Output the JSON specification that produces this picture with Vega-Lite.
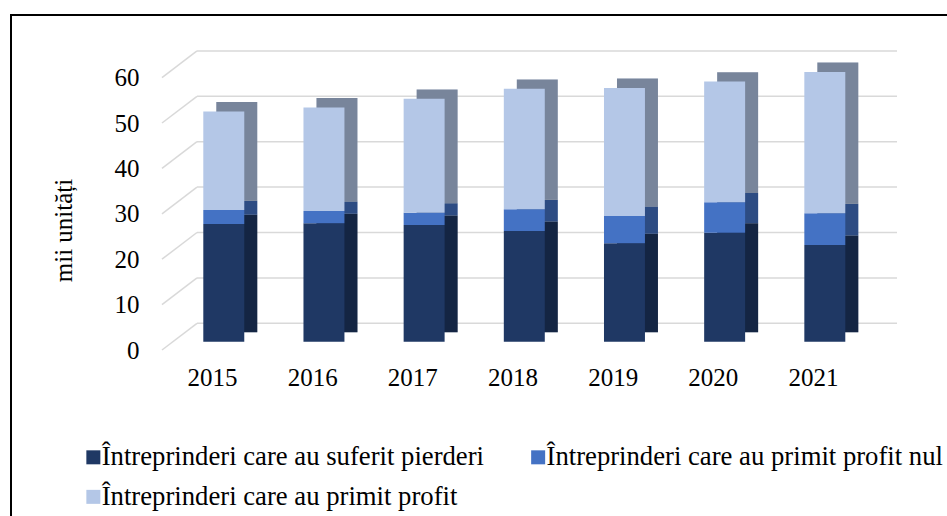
{
  "$schema": "https://vega.github.io/schema/vega-lite/v6.json",
  "width": 941,
  "height": 506,
  "autosize": {"type": "none"},
  "padding": {"left": 11, "top": 15, "right": -5, "bottom": -5},
  "background": "white",
  "config": {
    "view": {"stroke": "black", "strokeWidth": 2},
    "font": "Liberation Serif, Times New Roman, serif",
    "axis": {"grid": false, "domain": false, "ticks": false, "labelColor": "black", "labelFont": "Liberation Serif, Times New Roman, serif", "labelFontSize": 25, "titleColor": "black", "titleFont": "Liberation Serif, Times New Roman, serif", "titleFontSize": 25, "titleFontWeight": "normal"},
    "axisX": {"orient": "bottom", "offset": -166, "labelAngle": 0, "labelPadding": 10, "labelOffset": -11.3},
    "axisY": {"orient": "left", "offset": -129, "tickCount": 6, "labelPadding": 1, "labelOffset": 8.3, "titleX": -77, "titleY": 215, "titleAngle": -90, "titleAlign": "center", "titleBaseline": "middle"},
    "legend": {
      "orient": "none", "legendX": 69, "legendY": 428.5, "direction": "horizontal", "columns": 2,
      "padding": 0, "columnPadding": 39.8, "rowPadding": 12,
      "symbolType": "square", "symbolSize": 196, "symbolStrokeWidth": 0, "symbolOpacity": 1,
      "labelFontSize": 26.7, "labelFont": "Liberation Serif, Times New Roman, serif", "labelColor": "black", "labelOffset": -5, "labelLimit": 0
    }
  },
  "datasets": {
    "bars": [
      {"year": "2015", "series": "Întreprinderi care au suferit pierderi", "ord": 1, "value": 25.9},
      {"year": "2015", "series": "Întreprinderi care au primit profit nul", "ord": 2, "value": 3.1},
      {"year": "2015", "series": "Întreprinderi care au primit profit", "ord": 3, "value": 21.7},
      {"year": "2016", "series": "Întreprinderi care au suferit pierderi", "ord": 1, "value": 26.1},
      {"year": "2016", "series": "Întreprinderi care au primit profit nul", "ord": 2, "value": 2.7},
      {"year": "2016", "series": "Întreprinderi care au primit profit", "ord": 3, "value": 22.8},
      {"year": "2017", "series": "Întreprinderi care au suferit pierderi", "ord": 1, "value": 25.7},
      {"year": "2017", "series": "Întreprinderi care au primit profit nul", "ord": 2, "value": 2.7},
      {"year": "2017", "series": "Întreprinderi care au primit profit", "ord": 3, "value": 25.1},
      {"year": "2018", "series": "Întreprinderi care au suferit pierderi", "ord": 1, "value": 24.4},
      {"year": "2018", "series": "Întreprinderi care au primit profit nul", "ord": 2, "value": 4.8},
      {"year": "2018", "series": "Întreprinderi care au primit profit", "ord": 3, "value": 26.5},
      {"year": "2019", "series": "Întreprinderi care au suferit pierderi", "ord": 1, "value": 21.7},
      {"year": "2019", "series": "Întreprinderi care au primit profit nul", "ord": 2, "value": 6.0},
      {"year": "2019", "series": "Întreprinderi care au primit profit", "ord": 3, "value": 28.2},
      {"year": "2020", "series": "Întreprinderi care au suferit pierderi", "ord": 1, "value": 24.0},
      {"year": "2020", "series": "Întreprinderi care au primit profit nul", "ord": 2, "value": 6.7},
      {"year": "2020", "series": "Întreprinderi care au primit profit", "ord": 3, "value": 26.6},
      {"year": "2021", "series": "Întreprinderi care au suferit pierderi", "ord": 1, "value": 21.3},
      {"year": "2021", "series": "Întreprinderi care au primit profit nul", "ord": 2, "value": 7.0},
      {"year": "2021", "series": "Întreprinderi care au primit profit", "ord": 3, "value": 31.1}
    ],
    "ticks": [{"v": 0}, {"v": 10}, {"v": 20}, {"v": 30}, {"v": 40}, {"v": 50}, {"v": 60}]
  },
  "layer": [
    {
      "data": {"name": "ticks"},
      "mark": {"type": "tick", "orient": "horizontal", "size": 700, "thickness": 1.5, "color": "#d9d9d9", "opacity": 1, "xOffset": 22.7, "yOffset": -18.4},
      "encoding": {
        "x": {"datum": "2018", "type": "nominal", "title": null},
        "y": {"field": "v", "type": "quantitative", "title": "mii unități", "scale": {"domain": [0, 60], "range": [326.7, 54.3], "nice": false, "zero": true}}
      }
    },
    {
      "data": {"name": "ticks"},
      "mark": {"type": "rule", "color": "#d9d9d9", "strokeWidth": 1.5, "xOffset": -61.8, "x2Offset": -26.8, "yOffset": 8.3, "y2Offset": -18.4},
      "encoding": {
        "x": {"datum": "2015", "type": "nominal", "title": null},
        "x2": {"datum": "2015"},
        "y": {"field": "v", "type": "quantitative", "title": "mii unități"},
        "y2": {"field": "v"}
      }
    },
    {
      "data": {"name": "bars"},
      "mark": {"type": "bar", "xOffset": 13, "yOffset": -9.4, "y2Offset": -9.4},
      "encoding": {
        "x": {"field": "year", "type": "nominal", "title": null},
        "y": {"field": "value", "type": "quantitative", "stack": "zero", "title": "mii unități"},
        "order": {"field": "ord", "type": "quantitative"},
        "color": {"field": "series", "type": "nominal", "title": null}
      }
    },
    {
      "data": {"name": "bars"},
      "mark": {"type": "bar", "xOffset": 13, "yOffset": -9.4, "y2Offset": -9.4, "color": "black", "opacity": 0.33},
      "encoding": {
        "x": {"field": "year", "type": "nominal", "title": null},
        "y": {"field": "value", "type": "quantitative", "stack": "zero", "title": "mii unități"},
        "order": {"field": "ord", "type": "quantitative"},
        "detail": {"field": "series", "type": "nominal"}
      }
    },
    {
      "data": {"name": "bars"},
      "mark": {"type": "bar"},
      "encoding": {
        "x": {
          "field": "year", "type": "nominal", "title": null,
          "scale": {"range": [192.3, 834.3], "paddingInner": 0.591, "paddingOuter": 0}
        },
        "y": {"field": "value", "type": "quantitative", "stack": "zero", "title": "mii unități"},
        "order": {"field": "ord", "type": "quantitative"},
        "color": {
          "field": "series", "type": "nominal", "title": null,
          "scale": {
            "domain": ["Întreprinderi care au suferit pierderi", "Întreprinderi care au primit profit nul", "Întreprinderi care au primit profit"],
            "range": ["#1f3864", "#4472c4", "#b4c7e7"]
          }
        }
      }
    }
  ]
}
